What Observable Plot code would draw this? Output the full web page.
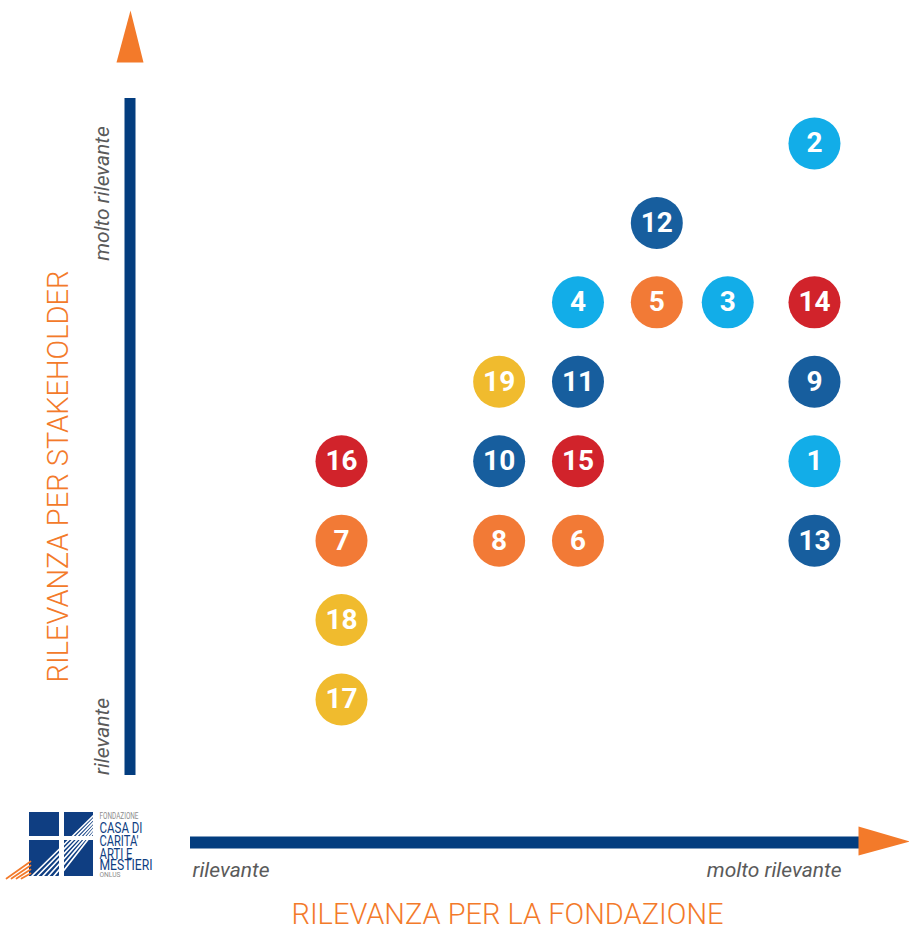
<!DOCTYPE html>
<html>
<head>
<meta charset="utf-8">
<script src="https://cdn.jsdelivr.net/npm/d3@7"></script>
<script src="https://cdn.jsdelivr.net/npm/@observablehq/plot@0.6"></script>
<style>
  html, body { margin: 0; padding: 0; background: #fff; }
  #chart { width: 909px; height: 928px; }
  svg { font-family: Roboto, "Open Sans", sans-serif; }
</style>
</head>
<body>
<div id="chart"></div>
<script>
// ---- data ----
const topicIds    = [1, 2, 3, 4, 5, 6, 7, 8, 9, 10, 11, 12, 13, 14, 15, 16, 17, 18, 19];
const fondazione  = [9, 9, 7.9, 6, 7, 6, 3, 5, 9, 5, 6, 7, 9, 9, 6, 3, 3, 3, 5];
const stakeholder = [4, 8, 6, 6, 6, 3, 3, 3, 5, 4, 5, 7, 3, 6, 4, 4, 1, 2, 5];
const topicGroup  = ["g1","g1","g1","g1","g3","g3","g3","g3","g2","g2","g2","g2","g2","g4","g4","g4","g5","g5","g5"];
const groupNames  = ["g1", "g2", "g3", "g4", "g5"];
const groupColors = ["#12ade8", "#175e9e", "#f27a36", "#d1232b", "#f0bb2e"];
const xTitle = "RILEVANZA PER LA FONDAZIONE";
const yTitle = "RILEVANZA PER STAKEHOLDER";
const lowLabel = "rilevante";
const highLabel = "molto rilevante";
const logoLines = ["FONDAZIONE", "CASA DI", "CARITA'", "ARTI E", "MESTIERI", "ONLUS"];

const topics = topicIds.map((id, i) => ({id, x: fondazione[i], y: stakeholder[i], g: topicGroup[i]}));

// ---- layout (pixel frame) ----
const W = 909, H = 928;
const X0 = 104.5, X1 = 892.8;   // x: 0 -> X0, 10 -> X1
const Y1 = 699, Y8 = 143;       // y: 1 -> Y1, 8 -> Y8
const kx = (X1 - X0) / 10, ky = (Y1 - Y8) / 7;
const px = p => (p - X0) / kx;         // pixel -> x units (decorations)
const py = p => 1 + (Y1 - p) / ky;     // pixel -> y units (decorations)

const NAVY = "#033d7f", ORANGE = "#f37a2a", GREY = "#5a5a5a";

const vBar = [{x: px(129.5), y1: py(775), y2: py(98)}];
const hBar = [{y: py(842), x1: px(190), x2: px(862)}];
const upArrow = [[130, 10], [143, 62], [116, 62]].map(([a, b]) => ({x: px(a), y: py(b)}));
const rightArrow = [[909, 841], [858, 855], [858, 826]].map(([a, b]) => ({x: px(a), y: py(b)}));

// logo
const logoSquares = [[29, 59, 812, 836], [64, 93, 812, 836], [29, 59, 840, 876], [64, 93, 840, 876]]
  .map(([a, b, c, d]) => ({x1: px(a), x2: px(b), y1: py(c), y2: py(d)}));
const whiteLines = [];
for (let i = 0; i < 6; i++) {
  whiteLines.push({k: i, x: px(31 + i * 5.5), y: py(876)});
  whiteLines.push({k: i, x: px(93), y: py(815 + i * 3.4)});
}
const orangeLines = [];
for (let i = 0; i < 4; i++) {
  orangeLines.push({k: i, x: px(6 + i * 5), y: py(878)});
  orangeLines.push({k: i, x: px(30), y: py(861 + i * 4)});
}
// per-line style of logo lettering: baseline (px), size, colour, width
const logoStyle = [
  {b: 818.5, s: 8.5, c: "#8c8c8c", w: 39},
  {b: 832,   s: 15,  c: "#0f3e82", w: 43},
  {b: 845.5, s: 15,  c: "#0f3e82", w: 39},
  {b: 858,   s: 15,  c: "#0f3e82", w: 33},
  {b: 869.5, s: 15,  c: "#0f3e82", w: 53},
  {b: 876.5, s: 7.5, c: "#8c8c8c", w: 21}
];
const LOGO_X = 99, LOGO_Y = 845;

const chart = Plot.plot({
  width: W,
  height: H,
  margin: 0,
  x: {domain: [0, 10], range: [X0, X1], axis: null},
  y: {domain: [1, 8], range: [Y1, Y8], axis: null},
  color: {domain: groupNames, range: groupColors},
  marks: [
    // axes bars and arrows
    Plot.ruleX(vBar, {x: "x", y1: "y1", y2: "y2", stroke: NAVY, strokeWidth: 11}),
    Plot.ruleY(hBar, {y: "y", x1: "x1", x2: "x2", stroke: NAVY, strokeWidth: 12}),
    Plot.line(upArrow, {x: "x", y: "y", fill: ORANGE, stroke: null, curve: "linear-closed"}),
    Plot.line(rightArrow, {x: "x", y: "y", fill: ORANGE, stroke: null, curve: "linear-closed"}),
    // end labels
    Plot.text([lowLabel], {x: px(192), y: py(870), text: d => d, textAnchor: "start", fontSize: 21, fontStyle: "italic", fill: GREY}),
    Plot.text([highLabel], {x: px(841), y: py(870), text: d => d, textAnchor: "end", fontSize: 21, fontStyle: "italic", fill: GREY}),
    Plot.text([highLabel], {x: px(102), y: py(193), text: d => d, rotate: -90, fontSize: 21, fontStyle: "italic", fill: GREY}),
    Plot.text([lowLabel], {x: px(102), y: py(736), text: d => d, rotate: -90, fontSize: 21, fontStyle: "italic", fill: GREY}),
    // titles
    Plot.text([xTitle], {x: px(507), y: py(914.5), text: d => d, fontSize: 29, fontWeight: 300, fill: ORANGE}),
    Plot.text([yTitle], {x: px(58), y: py(476), text: d => d, rotate: -90, fontSize: 29, fontWeight: 300, fill: ORANGE}),
    // bubbles
    Plot.dot(topics, {x: "x", y: "y", r: 26, fill: "g", stroke: null}),
    Plot.text(topics, {x: "x", y: "y", text: "id", fill: "white", fontSize: 28, fontWeight: "bold"}),
    // logo
    Plot.rect(logoSquares, {x1: "x1", x2: "x2", y1: "y1", y2: "y2", fill: "#0f3e82"}),
    Plot.line(whiteLines, {x: "x", y: "y", z: "k", stroke: "white", strokeWidth: 1.7}),
    Plot.line(orangeLines, {x: "x", y: "y", z: "k", stroke: ORANGE, strokeWidth: 1.7}),
    Plot.rect([0], {x1: px(59), x2: px(64), y1: py(800), y2: py(882), fill: "white"}),
    Plot.rect([0], {x1: px(25), x2: px(96), y1: py(836), y2: py(840), fill: "white"}),
    Plot.text([logoLines.join("\n")], {x: px(LOGO_X), y: py(LOGO_Y), text: d => d, textAnchor: "start", fontSize: 15, className: "logo-text"})
  ]
});

document.getElementById("chart").appendChild(chart);

// set per-line size, colour, width and baseline of the logo lettering
const logoTextEl = d3.select(chart).select("g.logo-text text");
logoTextEl.attr("transform", null).attr("dy", null).attr("x", LOGO_X).attr("y", LOGO_Y);
logoTextEl.selectAll("tspan").each(function(_, i) {
  const st = logoStyle[i];
  if (!st) return;
  const prev = i === 0 ? LOGO_Y : logoStyle[i - 1].b;
  d3.select(this)
    .attr("x", LOGO_X)
    .attr("y", null)
    .attr("dy", st.b - prev)
    .attr("font-size", st.s)
    .attr("fill", st.c)
    .attr("textLength", st.w)
    .attr("lengthAdjust", "spacingAndGlyphs");
});
</script>
</body>
</html>
